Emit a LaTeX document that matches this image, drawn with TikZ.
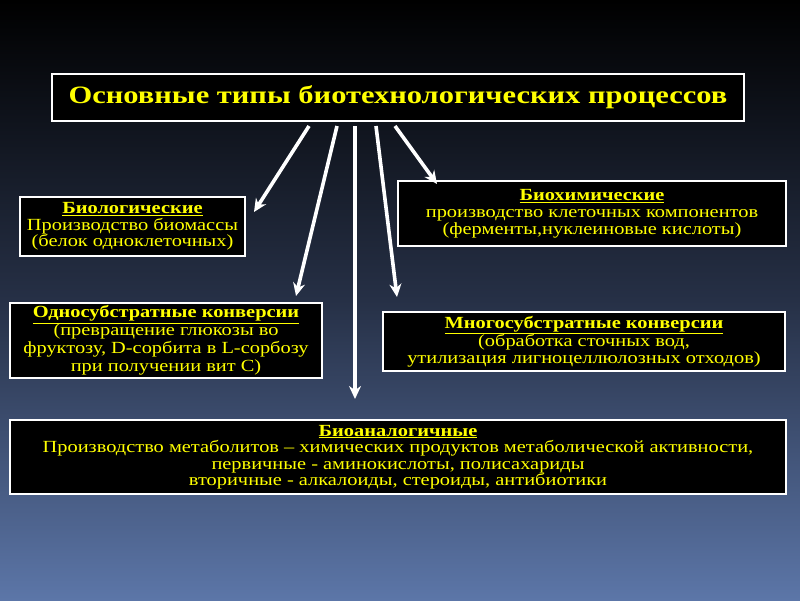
\documentclass[tikz,border=0pt]{standalone}
\usepackage{fontspec}
\setmainfont{Liberation Serif}
\newfontfamily\wideserif[FakeStretch=1.2]{Liberation Serif}
\newfontfamily\titleserif[FakeStretch=1.22]{Liberation Serif}
\usetikzlibrary{arrows.meta}
\definecolor{bgbot}{RGB}{92,118,168}
\definecolor{bgmid}{RGB}{38,48,70}
\definecolor{txt}{RGB}{255,255,0}
\begin{document}
\begin{tikzpicture}[x=1pt,y=-1pt,
  box/.style={draw=white, line width=1.2pt, fill=black, text=txt, align=center, inner sep=0pt, anchor=center},
  arr/.style={draw=white, line width=3.6pt, -{Stealth[length=13pt,width=12pt]}, shorten <=0pt}]
\useasboundingbox (0,0) rectangle (800,600);
\shade[top color=black, bottom color=bgbot, middle color=bgmid] (0,0) rectangle (800,600);
\node[box, minimum width=692pt, minimum height=47pt, font=\titleserif\bfseries\fontsize{25}{28}\selectfont] (title) at (398,97.5) {Основные типы биотехнологических процессов};
\node[box, minimum width=225pt, minimum height=59pt, font=\wideserif\fontsize{17}{16.5}\selectfont] (bio) at (132.5,226.5) {\underline{\textbf{Биологические}}\\Производство биомассы\\(белок одноклеточных)};
\node[box, minimum width=388pt, minimum height=65pt, font=\wideserif\fontsize{17}{17}\selectfont] (bchem) at (592,213.5) {\underline{\textbf{Биохимические}}\\производство клеточных компонентов\\(ферменты,нуклеиновые кислоты)};
\node[box, minimum width=312pt, minimum height=75pt, font=\wideserif\fontsize{17}{18}\selectfont] (single) at (166,340.5) {\underline{\textbf{Односубстратные конверсии}}\\(превращение глюкозы во\\фруктозу, D-сорбита в L-сорбозу\\при получении вит С)};
\node[box, minimum width=402pt, minimum height=59pt, font=\wideserif\fontsize{17}{16.5}\selectfont] (multi) at (584,341.5) {\underline{\textbf{Многосубстратные конверсии}}\\(обработка сточных вод,\\утилизация лигноцеллюлозных отходов)};
\node[box, minimum width=776pt, minimum height=74pt, font=\wideserif\fontsize{17}{16.5}\selectfont] (anal) at (398,457) {\underline{\textbf{Биоаналогичные}}\\Производство метаболитов – химических продуктов метаболической активности,\\первичные - аминокислоты, полисахариды\\вторичные - алкалоиды, стероиды, антибиотики};
\coordinate (a1) at (309,126);
\coordinate (a2) at (337,126);
\coordinate (a3) at (355,126);
\coordinate (a4) at (376,126);
\coordinate (a5) at (395,126);
\coordinate (t1) at (254,212);
\coordinate (t2) at (296,296);
\coordinate (t3) at (355,399);
\coordinate (t4) at (397,297);
\coordinate (t5) at (437,184);
\draw[arr] (a1) -- (t1);
\draw[arr] (a2) -- (t2);
\draw[arr] (a3) -- (t3);
\draw[arr] (a4) -- (t4);
\draw[arr] (a5) -- (t5);
\end{tikzpicture}
\end{document}
